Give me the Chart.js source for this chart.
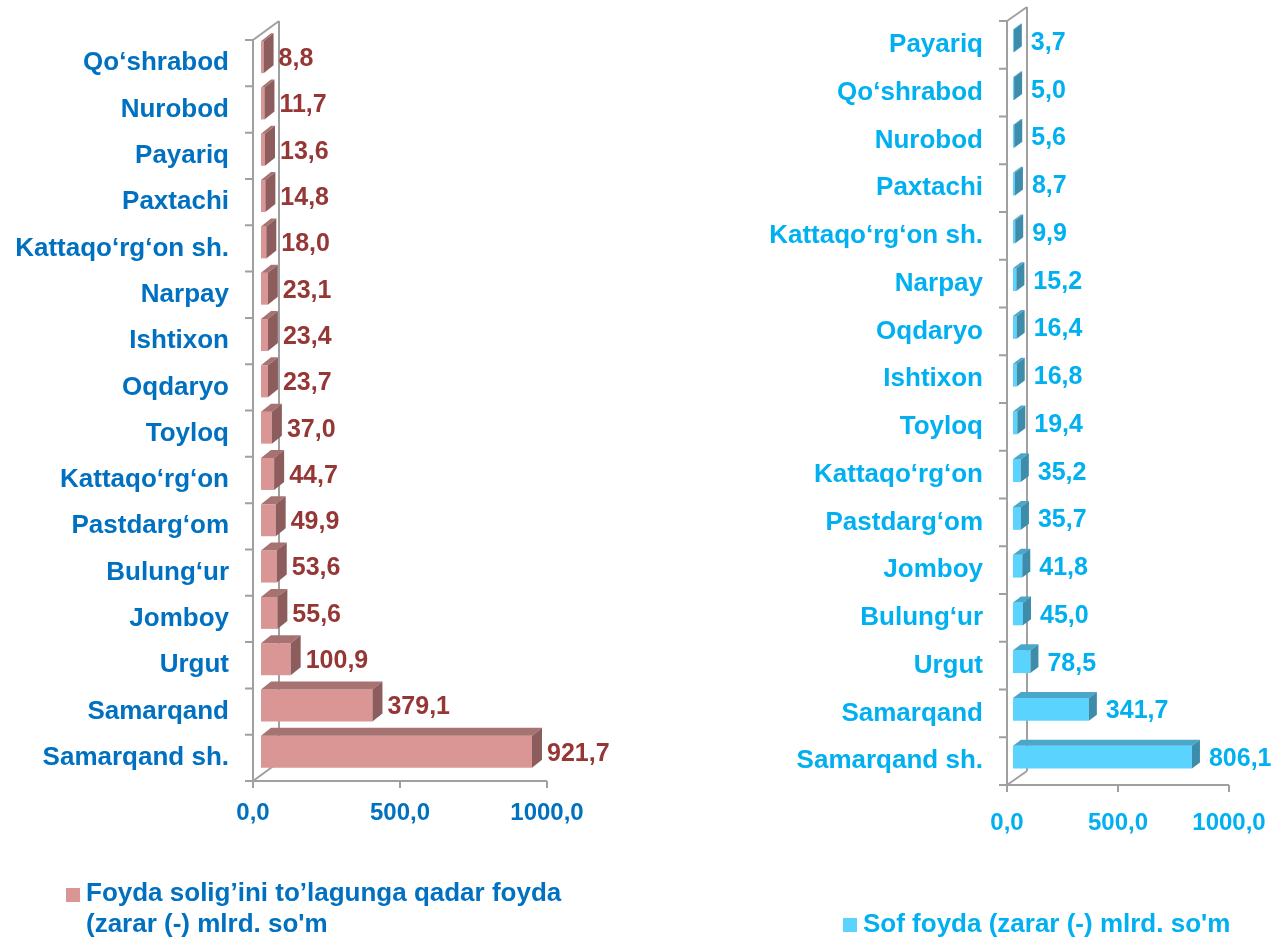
<!DOCTYPE html>
<html>
<head>
<meta charset="utf-8">
<script src="https://cdn.jsdelivr.net/npm/chart.js@4.4.1/dist/chart.umd.min.js"></script>
<style>
  html, body { margin: 0; padding: 0; background: #fff; }
  body { width: 1274px; height: 939px; position: relative; overflow: hidden; font-family: Arial, "Liberation Sans", sans-serif; }
  canvas { position: absolute; left: 0; top: 0; }
  .lg { position: absolute; font-weight: bold; font-size: 26px; line-height: 31px; white-space: nowrap; }
  .lg i { position: absolute; width: 14px; height: 14px; }
</style>
</head>
<body>
<canvas id="cLeft" width="1274" height="939"></canvas>
<canvas id="cRight" width="1274" height="939"></canvas>
<div class="lg" style="left:86px;top:877px;color:#0070C0"><i style="left:-20px;top:11px;background:#D99694"></i>Foyda solig’ini to’lagunga qadar foyda<br>(zarar (-) mlrd. so'm</div>
<div class="lg" style="left:863px;top:908px;color:#00B0F0"><i style="left:-20px;top:10px;background:#5BD3FF"></i>Sof foyda (zarar (-) mlrd. so'm</div>
<script>
// chap diagramma: soliq to'lagunga qadar foyda
const leftLabels = ["Qo‘shrabod", "Nurobod", "Payariq", "Paxtachi", "Kattaqo‘rg‘on sh.", "Narpay", "Ishtixon", "Oqdaryo",
  "Toyloq", "Kattaqo‘rg‘on", "Pastdarg‘om", "Bulung‘ur", "Jomboy", "Urgut", "Samarqand", "Samarqand sh."];
const leftValues = [8.8, 11.7, 13.6, 14.8, 18.0, 23.1, 23.4, 23.7, 37.0, 44.7, 49.9, 53.6, 55.6, 100.9, 379.1, 921.7];

// o'ng diagramma: sof foyda
const rightLabels = ["Payariq", "Qo‘shrabod", "Nurobod", "Paxtachi", "Kattaqo‘rg‘on sh.", "Narpay", "Oqdaryo", "Ishtixon",
  "Toyloq", "Kattaqo‘rg‘on", "Pastdarg‘om", "Jomboy", "Bulung‘ur", "Urgut", "Samarqand", "Samarqand sh."];
const rightValues = [3.7, 5.0, 5.6, 8.7, 9.9, 15.2, 16.4, 16.8, 19.4, 35.2, 35.7, 41.8, 45.0, 78.5, 341.7, 806.1];

const xTicks = [0, 500, 1000];

const FONT = 'Arial, "Liberation Sans", sans-serif';
const fmt = (v) => v.toFixed(1).replace(".", ",");

/* 3D ko'rinish: ramka + yon/ust yuzalar + qiymatlar */
const bar3d = {
  id: "bar3d",
  beforeDatasetsDraw(chart, args, o) {
    const { ctx, chartArea: a, scales: { x } } = chart;
    const fx = x.getPixelForValue(0) - o.frontDX;
    const top = a.top + o.frontDY, bot = a.bottom + o.frontDY;
    ctx.save();
    ctx.strokeStyle = "#A0A0A0";
    ctx.lineWidth = 2;
    ctx.beginPath();
    // orqa devor
    ctx.moveTo(fx + o.wallDX, top + o.wallDY); ctx.lineTo(fx + o.wallDX, bot + o.wallDY);
    ctx.moveTo(fx, top); ctx.lineTo(fx + o.wallDX, top + o.wallDY);
    ctx.moveTo(fx, bot); ctx.lineTo(fx + o.wallDX, bot + o.wallDY);
    // old o'qlar
    ctx.moveTo(fx, top); ctx.lineTo(fx, bot + 7);
    const xEnd = x.getPixelForValue(xTicks[xTicks.length - 1]) - o.frontDX;
    ctx.moveTo(fx - 8, bot); ctx.lineTo(xEnd, bot);
    const n = chart.data.labels.length;
    const step = (bot - top) / n;
    for (let i = 0; i < n; i++) { const ty = top + i * step; ctx.moveTo(fx - 8, ty); ctx.lineTo(fx, ty); }
    xTicks.forEach(v => { const tx = x.getPixelForValue(v) - o.frontDX; ctx.moveTo(tx, bot); ctx.lineTo(tx, bot + 7); });
    ctx.stroke();
    ctx.restore();
  },
  afterDatasetsDraw(chart, args, o) {
    const { ctx } = chart;
    const meta = chart.getDatasetMeta(0);
    const vals = chart.data.datasets[0].data;
    ctx.save();
    meta.data.forEach((el, i) => {
      const { x, y, base, height } = el.getProps(["x", "y", "base", "height"], true);
      const t = y - height / 2, b = y + height / 2;
      const dx = o.barDX, dy = o.barDY;
      ctx.fillStyle = o.topColor;
      ctx.beginPath();
      ctx.moveTo(base, t); ctx.lineTo(x, t); ctx.lineTo(x + dx, t - dy); ctx.lineTo(base + dx, t - dy);
      ctx.closePath(); ctx.fill();
      ctx.fillStyle = o.sideColor;
      ctx.beginPath();
      ctx.moveTo(x, t); ctx.lineTo(x + dx, t - dy); ctx.lineTo(x + dx, b - dy); ctx.lineTo(x, b);
      ctx.closePath(); ctx.fill();
      ctx.fillStyle = o.labelColor;
      ctx.font = "bold 25px " + FONT;
      ctx.textAlign = "left";
      ctx.textBaseline = "middle";
      ctx.fillText(fmt(vals[i]), x + dx + o.gap, y + 2);
    });
    ctx.restore();
  }
};

function makeChart(id, labels, values, p) {
  return new Chart(document.getElementById(id), {
    type: "bar",
    data: { labels, datasets: [{ data: values, backgroundColor: p.front, borderWidth: 0, barPercentage: p.barPct, categoryPercentage: 1 }] },
    plugins: [bar3d],
    options: {
      indexAxis: "y",
      responsive: false,
      animation: false,
      layout: { padding: { top: p.top, right: p.right, left: 0, bottom: 0 } },
      plugins: {
        legend: { display: false },
        tooltip: { enabled: false },
        bar3d: p.d3,
      },
      scales: {
        x: {
          min: 0, max: 1000,
          afterBuildTicks: (s) => { s.ticks = xTicks.map(v => ({ value: v })); },
          afterFit: (s) => { s.height = p.xH; s.paddingLeft = 0; s.paddingRight = 0; },
          grid: { display: false, drawTicks: false }, border: { display: false },
          ticks: { color: p.ink, font: { size: 24, weight: "bold", family: FONT }, padding: p.xPad, labelOffset: -p.d3.frontDX, callback: (v) => fmt(v), maxRotation: 0 },
        },
        y: {
          afterFit: (s) => { s.width = p.yW; s.paddingTop = 0; s.paddingBottom = 0; },
          grid: { display: false, drawTicks: false }, border: { display: false },
          ticks: { color: p.ink, font: { size: 26, weight: "bold", family: FONT }, padding: p.yPad, labelOffset: p.d3.frontDY, autoSkip: false },
        },
      },
    },
  });
}

makeChart("cLeft", leftLabels, leftValues, {
  front: "#D99694", ink: "#0070C0", barPct: 0.69,
  top: 34, right: 1274 - 555, xH: 939 - 775, yW: 261, xPad: 24, yPad: 32,
  d3: { frontDX: 8, frontDY: 6, wallDX: 26, wallDY: -19, barDX: 10, barDY: 8, gap: 5,
        topColor: "#A67372", sideColor: "#8C5D5C", labelColor: "#953735" },
});

makeChart("cRight", rightLabels, rightValues, {
  front: "#5BD3FF", ink: "#00B0F0", barPct: 0.48,
  top: 17, right: 1274 - 1235, xH: 939 - 781, yW: 1013, xPad: 28, yPad: 30,
  d3: { frontDX: 6, frontDY: 4, wallDX: 20, wallDY: -14, barDX: 8, barDY: 6, gap: 9,
        topColor: "#4BA7C9", sideColor: "#3D8CAA", labelColor: "#00B0F0" },
});
</script>
</body>
</html>
